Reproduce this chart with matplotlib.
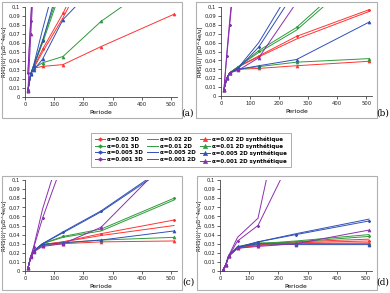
import matplotlib
matplotlib.use("Agg")
import matplotlib.pyplot as plt
from matplotlib.patches import Rectangle

# periode values where the runs were done
periode = [10, 20, 30, 60, 130, 260, 510]
alphas = ["0.02", "0.01", "0.005", "0.001"]
colors = ["#ff3333", "#2e9a3a", "#3050b8", "#8a2fb0"]
kinds = ["3D", "2D", "2D synthétique"]

# RMS values per panel, per alpha, per kind (3D, 2D, 2D synth)
data_a = {
    "0.02": [[0.008, 0.026, 0.033, 0.053, 0.093, 0.18, 0.35],
             [0.008, 0.026, 0.032, 0.050, 0.088, 0.17, 0.33],
             [0.008, 0.026, 0.032, 0.034, 0.036, 0.056, 0.092]],
    "0.01": [[0.008, 0.026, 0.035, 0.063, 0.13, 0.26, 0.50],
             [0.008, 0.026, 0.034, 0.060, 0.125, 0.25, 0.48],
             [0.008, 0.026, 0.032, 0.038, 0.045, 0.084, 0.141]],
    "0.005": [[0.007, 0.026, 0.035, 0.062, 0.14, 0.28, 0.55],
              [0.007, 0.026, 0.036, 0.075, 0.16, 0.32, 0.62],
              [0.007, 0.026, 0.030, 0.042, 0.086, 0.13, 0.25]],
    "0.001": [[0.027, 0.085, 0.14, 0.27, 0.55, 1.1, 2.1],
              [0.027, 0.090, 0.15, 0.28, 0.58, 1.1, 2.2],
              [0.007, 0.070, 0.13, 0.26, 0.55, 1.1, 2.1]],
}
data_b = {
    "0.02": [[0.007, 0.020, 0.026, 0.033, 0.045, 0.067, 0.097],
             [0.007, 0.020, 0.026, 0.033, 0.044, 0.064, 0.095],
             [0.007, 0.020, 0.026, 0.030, 0.031, 0.034, 0.039]],
    "0.01": [[0.007, 0.020, 0.026, 0.033, 0.051, 0.077, 0.15],
             [0.007, 0.020, 0.026, 0.033, 0.049, 0.074, 0.145],
             [0.007, 0.020, 0.026, 0.030, 0.033, 0.038, 0.042]],
    "0.005": [[0.007, 0.020, 0.026, 0.031, 0.055, 0.12, 0.24],
              [0.007, 0.020, 0.026, 0.032, 0.060, 0.13, 0.26],
              [0.007, 0.020, 0.026, 0.030, 0.034, 0.041, 0.083]],
    "0.001": [[0.007, 0.045, 0.080, 0.18, 0.38, 0.75, 1.5],
              [0.007, 0.048, 0.085, 0.19, 0.40, 0.80, 1.6],
              [0.007, 0.020, 0.026, 0.029, 0.043, 0.105, 0.22]],
}
data_c = {
    "0.02": [[0.003, 0.016, 0.022, 0.029, 0.032, 0.041, 0.056],
             [0.003, 0.016, 0.022, 0.029, 0.032, 0.039, 0.050],
             [0.003, 0.016, 0.022, 0.028, 0.030, 0.032, 0.033]],
    "0.01": [[0.003, 0.016, 0.022, 0.030, 0.038, 0.046, 0.080],
             [0.003, 0.016, 0.022, 0.030, 0.037, 0.044, 0.078],
             [0.003, 0.016, 0.022, 0.029, 0.031, 0.034, 0.037]],
    "0.005": [[0.003, 0.016, 0.022, 0.030, 0.043, 0.066, 0.121],
              [0.003, 0.016, 0.022, 0.030, 0.042, 0.065, 0.119],
              [0.003, 0.016, 0.022, 0.029, 0.031, 0.034, 0.044]],
    "0.001": [[0.003, 0.016, 0.026, 0.058, 0.12, 0.25, 0.50],
              [0.003, 0.016, 0.027, 0.068, 0.14, 0.28, 0.55],
              [0.003, 0.015, 0.021, 0.027, 0.030, 0.048, 0.129]],
}
data_d = {
    "0.02": [[0.001, 0.007, 0.017, 0.025, 0.029, 0.031, 0.033],
             [0.001, 0.007, 0.017, 0.025, 0.029, 0.032, 0.035],
             [0.001, 0.007, 0.017, 0.025, 0.028, 0.030, 0.031]],
    "0.01": [[0.001, 0.007, 0.017, 0.026, 0.030, 0.032, 0.038],
             [0.001, 0.007, 0.017, 0.026, 0.030, 0.033, 0.040],
             [0.001, 0.007, 0.017, 0.027, 0.031, 0.030, 0.030]],
    "0.005": [[0.001, 0.007, 0.017, 0.026, 0.032, 0.040, 0.055],
              [0.001, 0.007, 0.017, 0.026, 0.032, 0.041, 0.057],
              [0.001, 0.007, 0.017, 0.026, 0.030, 0.029, 0.029]],
    "0.001": [[0.001, 0.007, 0.016, 0.033, 0.050, 0.135, 0.30],
              [0.001, 0.007, 0.017, 0.037, 0.058, 0.25, 0.60],
              [0.001, 0.007, 0.016, 0.025, 0.027, 0.030, 0.045]],
}
panels = [data_a, data_b, data_c, data_d]
letters = ["(a)", "(b)", "(c)", "(d)"]
yticks = [0, 0.01, 0.02, 0.03, 0.04, 0.05, 0.06, 0.07, 0.08, 0.09, 0.1]
ytick_labels = ["0", "0,01", "0,02", "0,03", "0,04", "0,05", "0,06",
                "0,07", "0,08", "0,09", "0,1"]
xticks = [0, 100, 200, 300, 400, 500]

W, H = 390, 293
fig = plt.figure(figsize=(W / 100, H / 100), dpi=100)
plt.rcParams['font.family'] = ['DejaVu Sans']

def fx(px):
    return px / W

def fy(py):
    return 1 - py / H

# pixel layout: (axes left, axes top, axes right, axes bottom, box l, t, r, b, label x, label y)
layout = [
    (25, 7, 177, 97, 2, 2, 182, 118, 188, 116),
    (221, 7, 372, 96, 196, 2, 377, 118, 383, 116),
    (25, 180, 177, 271, 2, 176, 182, 290, 188, 285),
    (220, 180, 372, 271, 197, 176, 377, 290, 383, 285),
]

marker_for = {"3D": (6, 2, 0), "2D": None, "2D synthétique": "^"}
handles = {k: [] for k in kinds}

for data, lab, (al, at, ar, ab, bl, bt, br, bb, lx, ly) in zip(panels, letters, layout):
    fig.patches.append(Rectangle((fx(bl), fy(bb)), fx(br - bl), (bb - bt) / H,
                                 transform=fig.transFigure, fill=False,
                                 edgecolor="#b0b0b0", linewidth=0.8))
    ax = fig.add_axes([fx(al), fy(ab), fx(ar - al), (ab - at) / H])
    for a, c in zip(alphas, colors):
        for kind, vals in zip(kinds, data[a]):
            m = marker_for[kind]
            ln, = ax.plot(periode, vals, color=c, linewidth=0.7, marker=m,
                          markersize=2.2 if kind != "3D" else 2.0,
                          markeredgewidth=0.4, label="α=%s %s" % (a, kind))
            if lab == "(a)":
                handles[kind].append(ln)
    ax.set_xlim(0, 520)
    ax.set_ylim(0, 0.1)
    ax.set_xticks(xticks)
    ax.set_yticks(yticks)
    ax.set_yticklabels(ytick_labels)
    ax.tick_params(labelsize=3.8, length=2, width=0.5, pad=1.5, colors="#222222")
    for s in ["top", "right"]:
        ax.spines[s].set_visible(False)
    for s in ["left", "bottom"]:
        ax.spines[s].set_linewidth(0.6)
        ax.spines[s].set_color("#444444")
    ax.set_xlabel("Periode", fontsize=4.3, labelpad=2)
    ax.set_ylabel("RMS(U)' [pD^4e/u]", fontsize=3.8, labelpad=1)
    fig.text(fx(lx), fy(ly), lab, fontsize=6.5, family="DejaVu Serif",
             ha="center", va="baseline")

leg_handles = handles["3D"] + handles["2D"] + handles["2D synthétique"]
leg = fig.legend(handles=leg_handles, labels=[h.get_label() for h in leg_handles],
                 ncol=3, loc="center", bbox_to_anchor=(fx(191), fy(150)),
                 frameon=True, fancybox=False, edgecolor="#888888",
                 handlelength=1.9, columnspacing=0.7, labelspacing=0.3,
                 borderpad=0.6, handletextpad=0.4, markerscale=1.4,
                 prop={"weight": "bold", "size": 4.0})
leg.get_frame().set_linewidth(0.6)

fig.savefig("out.png", dpi=100)
